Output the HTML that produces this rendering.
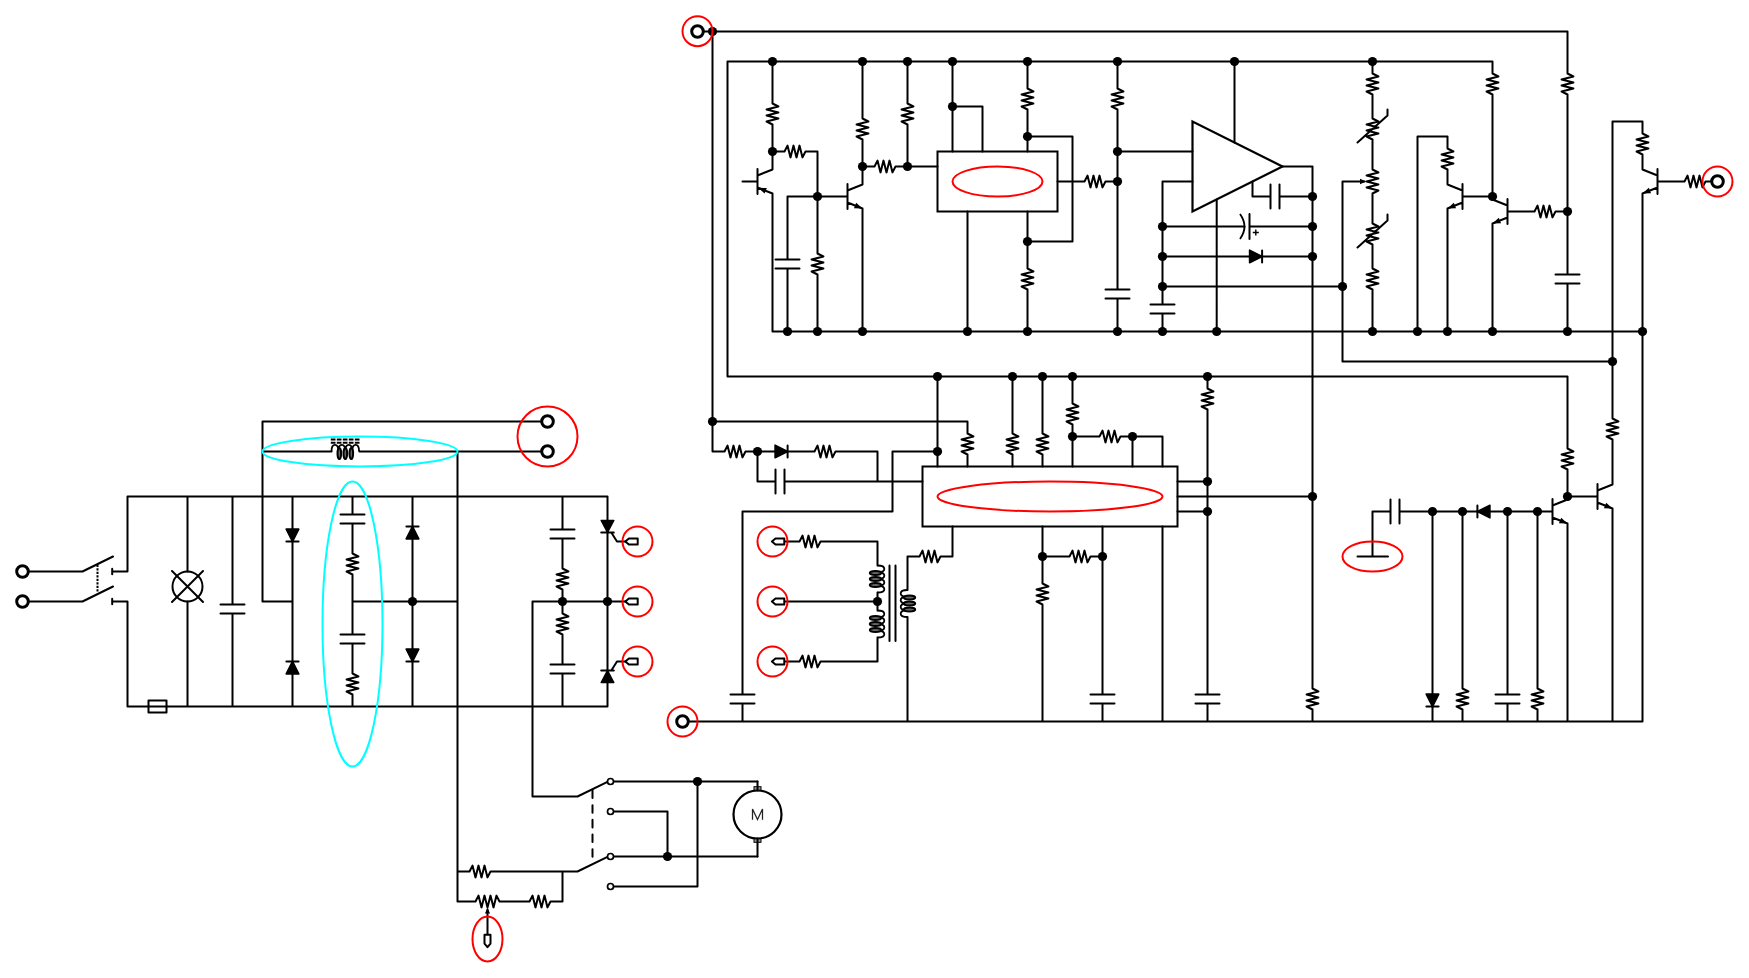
<!DOCTYPE html><html><head><meta charset="utf-8"><style>html,body{margin:0;padding:0;background:#fff;overflow:hidden}svg{display:block}</style></head><body><svg width="1749" height="978" viewBox="0 0 1749 978"><rect width="1749" height="978" fill="#fff"/><g transform="translate(0.5,0.5)"><path d="M703 31 L712 31 M712 31 L1567 31 L1567 61 M1567 61 L1567 73 L1572.9 76 L1561.1 79 L1572.9 82 L1561.1 85 L1572.9 88 L1561.1 91 L1567 94 L1567 106 M1567 106 L1567 256 M1567 256 L1567 274 M1567 283 L1567 301 M1579 274 L1555 274 M1579 283 L1555 283 M1567 301 L1567 331 M712 31 L712 451 M712 451 L724 451 L727 445.1 L730 456.9 L733 445.1 L736 456.9 L739 445.1 L742 456.9 L745 451 L757 451 M757 451 L802 451 M787.1 444.9 L787.1 457.1 M802 451 L814 451 L817 445.1 L820 456.9 L823 445.1 L826 456.9 L829 445.1 L832 456.9 L835 451 L847 451 M847 451 L877 451 L877 481 M757 451 L757 481 M757 481 L775 481 M784 481 L802 481 M775 469 L775 493 M784 469 L784 493 M802 481 L922 481 M712 421 L967 421 M967 421 L967 433 L972.9 436 L961.1 439 L972.9 442 L961.1 445 L972.9 448 L961.1 451 L967 454 L967 466 M727 376 L727 61 L1492 61 M1492 61 L1492 73 L1497.9 76 L1486.1 79 L1497.9 82 L1486.1 85 L1497.9 88 L1486.1 91 L1492 94 L1492 106 M1492 106 L1492 196 M727 376 L1567 376 L1567 436 M1567 436 L1567 448 L1572.9 451 L1561.1 454 L1572.9 457 L1561.1 460 L1572.9 463 L1561.1 466 L1567 469 L1567 481 M1567 481 L1567 496 M772 61 L772 91 M772 91 L772 103 L777.9 106 L766.1 109 L777.9 112 L766.1 115 L777.9 118 L766.1 121 L772 124 L772 136 M772 136 L772 166 M757 168.5 L757 193.5 M742 181 L757 181 M757 175 L772 169 L772 166 M757 187 L772 193 L772 196 M772 196 L772 331 M772 151 L784 151 L787 145.1 L790 156.9 L793 145.1 L796 156.9 L799 145.1 L802 156.9 L805 151 L817 151 M817 151 L817 241 M817 241 L817 253 L822.9 256 L811.1 259 L822.9 262 L811.1 265 L822.9 268 L811.1 271 L817 274 L817 286 M817 286 L817 331 M787 196 L832 196 M787 196 L787 241 M787 241 L787 259 M787 268 L787 286 M799 259 L775 259 M799 268 L775 268 M787 286 L787 331 M847 183.5 L847 208.5 M832 196 L847 196 M847 190 L862 184 L862 181 M847 202 L862 208 L862 211 M862 211 L862 331 M862 181 L862 151 M862 106 L862 118 L867.9 121 L856.1 124 L867.9 127 L856.1 130 L867.9 133 L856.1 136 L862 139 L862 151 M862 61 L862 106 M862 166 L874 166 L877 160.1 L880 171.9 L883 160.1 L886 171.9 L889 160.1 L892 171.9 L895 166 L907 166 M907 166 L937 166 M907 61 L907 91 M907 91 L907 103 L912.9 106 L901.1 109 L912.9 112 L901.1 115 L912.9 118 L901.1 121 L907 124 L907 136 M907 136 L907 166 M952 61 L952 151 M952 106 L982 106 L982 151 M1027 61 L1027 76 M1027 76 L1027 88 L1032.9 91 L1021.1 94 L1032.9 97 L1021.1 100 L1032.9 103 L1021.1 106 L1027 109 L1027 121 M1027 121 L1027 151 M1027 136 L1072 136 L1072 241 L1027 241 M1027 211 L1027 256 M1027 256 L1027 268 L1032.9 271 L1021.1 274 L1032.9 277 L1021.1 280 L1032.9 283 L1021.1 286 L1027 289 L1027 301 M1027 301 L1027 331 M967 211 L967 331 M1057 181 L1072 181 M1072 181 L1084 181 L1087 175.1 L1090 186.9 L1093 175.1 L1096 186.9 L1099 175.1 L1102 186.9 L1105 181 L1117 181 M1117 61 L1117 76 M1117 76 L1117 88 L1122.9 91 L1111.1 94 L1122.9 97 L1111.1 100 L1122.9 103 L1111.1 106 L1117 109 L1117 121 M1117 121 L1117 271 M1117 271 L1117 289 M1117 298 L1117 316 M1129 289 L1105 289 M1129 298 L1105 298 M1117 316 L1117 331 M1117 151 L1192 151 M1192 181 L1162 181 L1162 286 M1162 286 L1162 304 M1162 313 L1162 331 M1174 304 L1150 304 M1174 313 L1150 313 M1234 61 L1234 142 M1216.2 199 L1216.2 331 M1282 166 L1312 166 L1312 676 M1312 676 L1312 688 L1317.9 691 L1306.1 694 L1317.9 697 L1306.1 700 L1317.9 703 L1306.1 706 L1312 709 L1312 721 M1252 181 L1252 196 M1252 196 L1270 196 M1279 196 L1297 196 M1270 184 L1270 208 M1279 184 L1279 208 M1297 196 L1312 196 M1162 226 L1244 226 M1249 226 L1312 226 M1249 213.5 L1249 238.5 M1162 256 L1312 256 M1261.6 249.9 L1261.6 262.1 M1162 286 L1342 286 M1342 181 L1342 361 L1612 361 M1342 181 L1364 181 M1372 61 L1372 73 L1377.9 76 L1366.1 79 L1377.9 82 L1366.1 85 L1377.9 88 L1366.1 91 L1372 94 L1372 106 M1372 106 L1372 118 L1377.9 121 L1366.1 124 L1377.9 127 L1366.1 130 L1377.9 133 L1366.1 136 L1372 139 L1372 151 M1357 142 L1387 115 L1387 109 M1372 151 L1372 169 L1377.9 172 L1366.1 175 L1377.9 178 L1366.1 181 L1377.9 184 L1366.1 187 L1377.9 190 L1372 193 L1372 211 M1372 211 L1372 223 L1377.9 226 L1366.1 229 L1377.9 232 L1366.1 235 L1377.9 238 L1366.1 241 L1372 244 L1372 256 M1357 247 L1387 220 L1387 214 M1372 256 L1372 268 L1377.9 271 L1366.1 274 L1377.9 277 L1366.1 280 L1377.9 283 L1366.1 286 L1372 289 L1372 301 M1372 301 L1372 331 M1417 331 L1417 136 L1447 136 M1447 136 L1447 148 L1452.9 151 L1441.1 154 L1452.9 157 L1441.1 160 L1452.9 163 L1441.1 166 L1447 169 L1447 181 M1462 183.5 L1462 208.5 M1477 196 L1462 196 M1462 190 L1447 184 L1447 181 M1462 202 L1447 208 L1447 211 M1477 196 L1492 196 M1447 211 L1447 331 M1507 198.5 L1507 223.5 M1522 211 L1507 211 M1507 205 L1492 199 L1492 196 M1507 217 L1492 223 L1492 226 M1522 211 L1534 211 L1537 205.1 L1540 216.9 L1543 205.1 L1546 216.9 L1549 205.1 L1552 216.9 L1555 211 L1567 211 M1492 226 L1492 331 M772 331 L1642 331 M1657 168.5 L1657 193.5 M1672 181 L1657 181 M1657 175 L1642 169 L1642 166 M1657 187 L1642 193 L1642 196 M1672 181 L1684 181 L1687 175.1 L1690 186.9 L1693 175.1 L1696 186.9 L1699 175.1 L1702 186.9 L1705 181 L1717 181 M1642 121 L1642 133 L1647.9 136 L1636.1 139 L1647.9 142 L1636.1 145 L1647.9 148 L1636.1 151 L1642 154 L1642 166 M1642 121 L1612 121 L1612 406 M1612 406 L1612 418 L1617.9 421 L1606.1 424 L1617.9 427 L1606.1 430 L1617.9 433 L1606.1 436 L1612 439 L1612 451 M1612 451 L1612 481 M1642 196 L1642 721 M688 721 L1642 721 M937 376 L937 466 M937 451 L892 451 L892 511 L742 511 L742 676 M742 676 L742 694 M742 703 L742 721 M754 694 L730 694 M754 703 L730 703 M1012 376 L1012 421 M1012 421 L1012 433 L1017.9 436 L1006.1 439 L1017.9 442 L1006.1 445 L1017.9 448 L1006.1 451 L1012 454 L1012 466 M1042 376 L1042 421 M1042 421 L1042 433 L1047.9 436 L1036.1 439 L1047.9 442 L1036.1 445 L1047.9 448 L1036.1 451 L1042 454 L1042 466 M1072 376 L1072 391 M1072 391 L1072 403 L1077.9 406 L1066.1 409 L1077.9 412 L1066.1 415 L1077.9 418 L1066.1 421 L1072 424 L1072 436 M1072 436 L1072 466 M1072 436 L1087 436 M1087 436 L1099 436 L1102 430.1 L1105 441.9 L1108 430.1 L1111 441.9 L1114 430.1 L1117 441.9 L1120 436 L1132 436 M1132 436 L1132 466 M1132 436 L1162 436 L1162 466 M1207 376 L1207 388 L1212.9 391 L1201.1 394 L1212.9 397 L1201.1 400 L1212.9 403 L1201.1 406 L1207 409 L1207 421 M1207 421 L1207 676 M1207 676 L1207 694 M1207 703 L1207 721 M1219 694 L1195 694 M1219 703 L1195 703 M1177 481 L1207 481 M1177 511 L1207 511 M1177 496 L1312 496 M952 526 L952 556 M907 556 L919 556 L922 550.1 L925 561.9 L928 550.1 L931 561.9 L934 550.1 L937 561.9 L940 556 L952 556 M907 556 L907 589.5 M907 616.5 L907 721 M1042 526 L1042 571 M1042 571 L1042 583 L1047.9 586 L1036.1 589 L1047.9 592 L1036.1 595 L1047.9 598 L1036.1 601 L1042 604 L1042 616 M1042 616 L1042 721 M1042 556 L1057 556 M1057 556 L1069 556 L1072 550.1 L1075 561.9 L1078 550.1 L1081 561.9 L1084 550.1 L1087 561.9 L1090 556 L1102 556 M1102 526 L1102 676 M1102 676 L1102 694 M1102 703 L1102 721 M1114 694 L1090 694 M1114 703 L1090 703 M1162 526 L1162 721 M785 541 L787 541 M787 541 L799 541 L802 535.1 L805 546.9 L808 535.1 L811 546.9 L814 535.1 L817 546.9 L820 541 L832 541 M832 541 L877 541 L877 565 M785 601 L877 601 M785 661 L787 661 M787 661 L799 661 L802 655.1 L805 666.9 L808 655.1 L811 666.9 L814 655.1 L817 666.9 L820 661 L832 661 M832 661 L877 661 L877 637 M1372 556 L1372 511 M1357 556 L1387.5 556 M1372 511 L1390 511 M1399 511 L1417 511 M1390 499 L1390 523 M1399 499 L1399 523 M1417 511 L1537 511 M1476.9 517.1 L1476.9 504.9 M1432 511 L1432 676 M1432 676 L1432 721 M1438.1 706.1 L1425.9 706.1 M1462 511 L1462 676 M1462 676 L1462 688 L1467.9 691 L1456.1 694 L1467.9 697 L1456.1 700 L1467.9 703 L1456.1 706 L1462 709 L1462 721 M1507 511 L1507 676 M1507 676 L1507 694 M1507 703 L1507 721 M1519 694 L1495 694 M1519 703 L1495 703 M1537 511 L1537 676 M1537 676 L1537 688 L1542.9 691 L1531.1 694 L1542.9 697 L1531.1 700 L1542.9 703 L1531.1 706 L1537 709 L1537 721 M1552 498.5 L1552 523.5 M1537 511 L1552 511 M1552 505 L1567 499 L1567 496 M1552 517 L1567 523 L1567 526 M1567 526 L1567 721 M1597 483.5 L1597 508.5 M1582 496 L1597 496 M1597 490 L1612 484 L1612 481 M1597 502 L1612 508 L1612 511 M1567 496 L1582 496 M1612 511 L1612 721 M28 571 L82 571 L112.5 556 M28 601 L82 601 L112.5 586 M111.7 568.2 L111.7 573.8 M111.7 598.2 L111.7 603.8 M112 571 L127 571 L127 496 L607 496 L607 706 L127 706 L127 601 L112 601 M187 496 L187 571 M187 601 L187 706 M171.5 570.5 L202.5 601.5 M171.5 601.5 L202.5 570.5 M232 496 L232 586 M232 586 L232 604 M232 613 L232 631 M244 604 L220 604 M244 613 L220 613 M232 631 L232 706 M541 421 L262 421 L262 601 L292 601 M262 451 L331 451 M359 451 L541 451 M457 451 L457 901 M292 496 L292 706 M292 511 L292 556 M298.1 541.1 L285.9 541.1 M292 691 L292 646 M285.9 660.9 L298.1 660.9 M352 496 L352 496 M352 496 L352 514 M352 523 L352 541 M364 514 L340 514 M364 523 L340 523 M352 541 L352 553 L357.9 556 L346.1 559 L357.9 562 L346.1 565 L357.9 568 L346.1 571 L352 574 L352 586 M352 586 L352 616 M352 616 L352 634 M352 643 L352 661 M364 634 L340 634 M364 643 L340 643 M352 661 L352 673 L357.9 676 L346.1 679 L357.9 682 L346.1 685 L357.9 688 L346.1 691 L352 694 L352 706 M352 601 L457 601 M412 496 L412 706 M412 556 L412 511 M405.9 525.9 L418.1 525.9 M412 631 L412 676 M418.1 661.1 L405.9 661.1 M562 496 L562 511 M562 511 L562 529 M562 538 L562 556 M574 529 L550 529 M574 538 L550 538 M562 556 L562 568 L567.9 571 L556.1 574 L567.9 577 L556.1 580 L567.9 583 L556.1 586 L562 589 L562 601 M562 601 L562 613 L567.9 616 L556.1 619 L567.9 622 L556.1 625 L567.9 628 L556.1 631 L562 634 L562 646 M562 646 L562 664 M562 673 L562 691 M574 664 L550 664 M574 673 L550 673 M562 691 L562 706 M532 601 L625 601 M532 601 L532 796 L577 796 L607 781.3 M600.7 532 L613.3 532 M610.8 532 L616.5 541 L625 541 M600.7 670 L613.3 670 M610.8 670 L616.5 661 L625 661 M613 781 L757 781 M613 811 L667 811 L667 856 M613 856 L757 856 M613 886 L697 886 L697 781 M457 871 L469 871 L472 865.1 L475 876.9 L478 865.1 L481 876.9 L484 865.1 L487 876.9 L490 871 L502 871 M502 871 L577 871 L607 856.3 M457 901 L475 901 L478 895.1 L481 906.9 L484 895.1 L487 906.9 L490 895.1 L493 906.9 L496 895.1 L499 901 L517 901 M517 901 L529 901 L532 895.1 L535 906.9 L538 895.1 L541 906.9 L544 895.1 L547 906.9 L550 901 L562 901 M562 901 L562 871 M487 934 L487 909 M877 592 L877 610 M889 565 L889 640.5 M895 565 L895 640.5" fill="none" stroke="#000" stroke-width="2" stroke-linecap="round" stroke-linejoin="round"/><g fill="#000"><circle cx="712" cy="31" r="4.6"/><circle cx="1567" cy="211" r="4.6"/><circle cx="1567" cy="331" r="4.6"/><circle cx="712" cy="421" r="4.6"/><circle cx="757" cy="451" r="4.6"/><path d="M774.6 444.7 L774.6 457.3 L787.1 451 Z" stroke="#000" stroke-width="1.6" stroke-linejoin="round"/><circle cx="1492" cy="196" r="4.6"/><circle cx="1567" cy="496" r="4.6"/><circle cx="772" cy="61" r="4.6"/><circle cx="862" cy="61" r="4.6"/><circle cx="907" cy="61" r="4.6"/><circle cx="952" cy="61" r="4.6"/><circle cx="1027" cy="61" r="4.6"/><circle cx="1117" cy="61" r="4.6"/><circle cx="1234" cy="61" r="4.6"/><circle cx="1372" cy="61" r="4.6"/><circle cx="937" cy="376" r="4.6"/><circle cx="1012" cy="376" r="4.6"/><circle cx="1042" cy="376" r="4.6"/><circle cx="1072" cy="376" r="4.6"/><circle cx="1207" cy="376" r="4.6"/><circle cx="772" cy="151" r="4.6"/><path d="M757.8 187.3 L764.11 193.06 L766.34 187.49 Z"/><circle cx="817" cy="196" r="4.6"/><circle cx="817" cy="331" r="4.6"/><circle cx="787" cy="331" r="4.6"/><path d="M862 208 L853.46 207.81 L855.69 202.24 Z"/><circle cx="862" cy="331" r="4.6"/><circle cx="862" cy="166" r="4.6"/><circle cx="907" cy="166" r="4.6"/><circle cx="952" cy="106" r="4.6"/><circle cx="1027" cy="136" r="4.6"/><circle cx="1027" cy="241" r="4.6"/><circle cx="1027" cy="331" r="4.6"/><circle cx="967" cy="331" r="4.6"/><circle cx="1117" cy="181" r="4.6"/><circle cx="1117" cy="151" r="4.6"/><circle cx="1117" cy="331" r="4.6"/><circle cx="1162" cy="226" r="4.6"/><circle cx="1162" cy="256" r="4.6"/><circle cx="1162" cy="286" r="4.6"/><circle cx="1162" cy="331" r="4.6"/><circle cx="1216.2" cy="331" r="4.6"/><circle cx="1312" cy="196" r="4.6"/><circle cx="1312" cy="226" r="4.6"/><circle cx="1312" cy="256" r="4.6"/><circle cx="1312" cy="496" r="4.6"/><path d="M1249.1 249.7 L1249.1 262.3 L1261.6 256 Z" stroke="#000" stroke-width="1.6" stroke-linejoin="round"/><circle cx="1342" cy="286" r="4.6"/><circle cx="1612" cy="361" r="4.6"/><path d="M1365.5 181 l-6 -2.8 v5.6 Z"/><circle cx="1372" cy="331" r="4.6"/><path d="M1447 208 L1453.31 202.24 L1455.54 207.81 Z"/><circle cx="1417" cy="331" r="4.6"/><circle cx="1447" cy="331" r="4.6"/><path d="M1492 223 L1498.31 217.24 L1500.54 222.81 Z"/><circle cx="1492" cy="331" r="4.6"/><circle cx="1642" cy="331" r="4.6"/><path d="M1642 193 L1648.31 187.24 L1650.54 192.81 Z"/><circle cx="937" cy="451" r="4.6"/><circle cx="1072" cy="436" r="4.6"/><circle cx="1132" cy="436" r="4.6"/><circle cx="1207" cy="481" r="4.6"/><circle cx="1207" cy="511" r="4.6"/><circle cx="1042" cy="556" r="4.6"/><circle cx="1102" cy="556" r="4.6"/><circle cx="877" cy="601" r="4.6"/><path d="M1489.4 517.3 L1489.4 504.7 L1476.9 511 Z" stroke="#000" stroke-width="1.6" stroke-linejoin="round"/><circle cx="1432" cy="511" r="4.6"/><circle cx="1462" cy="511" r="4.6"/><circle cx="1507" cy="511" r="4.6"/><circle cx="1537" cy="511" r="4.6"/><path d="M1438.3 693.6 L1425.7 693.6 L1432 706.1 Z" stroke="#000" stroke-width="1.6" stroke-linejoin="round"/><path d="M1567 523 L1558.46 522.81 L1560.69 517.24 Z"/><path d="M1612 508 L1603.46 507.81 L1605.69 502.24 Z"/><path d="M298.3 528.6 L285.7 528.6 L292 541.1 Z" stroke="#000" stroke-width="1.6" stroke-linejoin="round"/><path d="M285.7 673.4 L298.3 673.4 L292 660.9 Z" stroke="#000" stroke-width="1.6" stroke-linejoin="round"/><circle cx="412" cy="601" r="4.6"/><path d="M405.7 538.4 L418.3 538.4 L412 525.9 Z" stroke="#000" stroke-width="1.6" stroke-linejoin="round"/><path d="M418.3 648.6 L405.7 648.6 L412 661.1 Z" stroke="#000" stroke-width="1.6" stroke-linejoin="round"/><circle cx="562" cy="601" r="4.6"/><circle cx="607" cy="601" r="4.6"/><path d="M600.7 520 h12.6 l-6.3 11.8 Z" stroke="#000" stroke-width="1.5" stroke-linejoin="round"/><path d="M600.7 682 h12.6 l-6.3 -11.8 Z" stroke="#000" stroke-width="1.5" stroke-linejoin="round"/><circle cx="697" cy="781" r="4.6"/><circle cx="667" cy="856" r="4.6"/><path d="M487 907.5 l-2.6 5.5 h5.2 Z"/></g><circle cx="697" cy="31" r="5.8" fill="#fff" stroke="#000" stroke-width="3"/><ellipse cx="697" cy="30.7" rx="15" ry="15" fill="none" stroke="#f00" stroke-width="2"/><rect x="937" y="151" width="120" height="60" fill="none" stroke="#000" stroke-width="2"/><ellipse cx="997" cy="181" rx="45" ry="15" fill="none" stroke="#f00" stroke-width="2"/><path d="M1192 121 L1192 211 L1282 166 Z" fill="none" stroke="#000" stroke-width="2.2" stroke-linejoin="miter"/><path d="M1239.5 213.5 Q1248.5 226 1239.5 238.5" fill="none" stroke="#000" stroke-width="1.8"/><path d="M1252.3 232 h6 M1255.3 229 v6" fill="none" stroke="#000" stroke-width="1.4"/><circle cx="1717" cy="181" r="5.8" fill="#fff" stroke="#000" stroke-width="3"/><ellipse cx="1717" cy="181" rx="15" ry="15" fill="none" stroke="#f00" stroke-width="2"/><circle cx="682" cy="721" r="5.8" fill="#fff" stroke="#000" stroke-width="3"/><ellipse cx="682" cy="721" rx="15" ry="15" fill="none" stroke="#f00" stroke-width="2"/><rect x="922" y="466" width="255" height="60" fill="none" stroke="#000" stroke-width="2"/><ellipse cx="1049.5" cy="496" rx="112.5" ry="15" fill="none" stroke="#f00" stroke-width="2"/><ellipse cx="772" cy="541" rx="15" ry="15" fill="none" stroke="#f00" stroke-width="2"/><path d="M771.4 541 l3.6 -3 h8.8 v6 h-8.8 Z" fill="#fff" stroke="#000" stroke-width="2" stroke-linejoin="round"/><ellipse cx="772" cy="601" rx="15" ry="15" fill="none" stroke="#f00" stroke-width="2"/><path d="M771.4 601 l3.6 -3 h8.8 v6 h-8.8 Z" fill="#fff" stroke="#000" stroke-width="2" stroke-linejoin="round"/><ellipse cx="772" cy="661" rx="15" ry="15" fill="none" stroke="#f00" stroke-width="2"/><path d="M771.4 661 l3.6 -3 h8.8 v6 h-8.8 Z" fill="#fff" stroke="#000" stroke-width="2" stroke-linejoin="round"/><ellipse cx="1372" cy="556" rx="30" ry="15" fill="none" stroke="#f00" stroke-width="2"/><circle cx="22" cy="571" r="5.8" fill="#fff" stroke="#000" stroke-width="3"/><circle cx="22" cy="601" r="5.8" fill="#fff" stroke="#000" stroke-width="3"/><path d="M97 564.3 V592" fill="none" stroke="#000" stroke-width="2" stroke-dasharray="2.2 1.3"/><rect x="148" y="700" width="18" height="12" fill="none" stroke="#000" stroke-width="2" stroke-linejoin="round"/><circle cx="187" cy="586" r="15" fill="none" stroke="#000" stroke-width="2"/><circle cx="547" cy="421" r="5.8" fill="#fff" stroke="#000" stroke-width="3"/><circle cx="547" cy="451" r="5.8" fill="#fff" stroke="#000" stroke-width="3"/><ellipse cx="547" cy="436" rx="30" ry="30" fill="none" stroke="#f00" stroke-width="2"/><ellipse cx="359.5" cy="451" rx="97.5" ry="15" fill="none" stroke="#0ff" stroke-width="2"/><ellipse cx="352" cy="623.5" rx="30" ry="142.5" fill="none" stroke="#0ff" stroke-width="2"/><ellipse cx="637" cy="541" rx="15" ry="15" fill="none" stroke="#f00" stroke-width="2"/><path d="M624.8 541 l3.6 -3 h8.8 v6 h-8.8 Z" fill="#fff" stroke="#000" stroke-width="2" stroke-linejoin="round"/><ellipse cx="637" cy="601" rx="15" ry="15" fill="none" stroke="#f00" stroke-width="2"/><path d="M624.8 601 l3.6 -3 h8.8 v6 h-8.8 Z" fill="#fff" stroke="#000" stroke-width="2" stroke-linejoin="round"/><ellipse cx="637" cy="661" rx="15" ry="15" fill="none" stroke="#f00" stroke-width="2"/><path d="M624.8 661 l3.6 -3 h8.8 v6 h-8.8 Z" fill="#fff" stroke="#000" stroke-width="2" stroke-linejoin="round"/><circle cx="610" cy="781" r="3" fill="#fff" stroke="#000" stroke-width="1.7"/><circle cx="610" cy="811" r="3" fill="#fff" stroke="#000" stroke-width="1.7"/><circle cx="610" cy="856" r="3" fill="#fff" stroke="#000" stroke-width="1.7"/><circle cx="610" cy="886" r="3" fill="#fff" stroke="#000" stroke-width="1.7"/><path d="M592 790 V856.5" fill="none" stroke="#000" stroke-width="2" stroke-linecap="round" stroke-dasharray="7.6 7.07"/><path d="M484 934.3 h6 v8.8 l-3 3.6 l-3 -3.6 Z" fill="#fff" stroke="#000" stroke-width="2" stroke-linejoin="round"/><ellipse cx="487" cy="938.5" rx="15" ry="22.5" fill="none" stroke="#f00" stroke-width="2"/><circle cx="757" cy="814" r="24" fill="#fff" stroke="#000" stroke-width="2.2"/><rect x="753.5" y="786.2" width="7" height="3.4" fill="#999" stroke="#000" stroke-width="1"/><rect x="753.5" y="838.4" width="7" height="3.4" fill="#999" stroke="#000" stroke-width="1"/><path d="M752 819.3 V808.6 L757 819 L762 808.6 V819.3" fill="none" stroke="#222" stroke-width="1.25" stroke-linejoin="miter"/><path d="M757 781 V790 M757 856 V838" fill="none" stroke="#000" stroke-width="2" stroke-linecap="round"/><path d="M331 451 C331 442.29 337.9 442.29 337.9 451 C337.9 442.29 344.8 442.29 344.8 451 C344.8 442.29 351.7 442.29 351.7 451 C351.7 442.29 358.6 442.29 358.6 451" fill="none" stroke="#000" stroke-width="1.8"/><ellipse cx="338.8" cy="453" rx="1.8" ry="5.6" fill="#666" stroke="#000" stroke-width="2"/><ellipse cx="344.8" cy="453" rx="1.8" ry="5.6" fill="#666" stroke="#000" stroke-width="2"/><ellipse cx="350.8" cy="453" rx="1.8" ry="5.6" fill="#666" stroke="#000" stroke-width="2"/><path d="M330.3 439 H359.5" fill="none" stroke="#000" stroke-width="1.9" stroke-dasharray="4.7 1.3"/><path d="M330.3 442.3 H359.5" fill="none" stroke="#000" stroke-width="1.9" stroke-dasharray="4.7 1.3"/><path d="M877 565 C886.1 565 886.1 571.75 877 571.75 C886.1 571.75 886.1 578.5 877 578.5 C886.1 578.5 886.1 585.25 877 585.25 C886.1 585.25 886.1 592 877 592" fill="none" stroke="#000" stroke-width="1.8"/><ellipse cx="875" cy="572.5" rx="5.7" ry="1.9" fill="#666" stroke="#000" stroke-width="2"/><ellipse cx="875" cy="578.5" rx="5.7" ry="1.9" fill="#666" stroke="#000" stroke-width="2"/><ellipse cx="875" cy="584.5" rx="5.7" ry="1.9" fill="#666" stroke="#000" stroke-width="2"/><path d="M877 610 C886.1 610 886.1 616.75 877 616.75 C886.1 616.75 886.1 623.5 877 623.5 C886.1 623.5 886.1 630.25 877 630.25 C886.1 630.25 886.1 637 877 637" fill="none" stroke="#000" stroke-width="1.8"/><ellipse cx="875" cy="617.5" rx="5.7" ry="1.9" fill="#666" stroke="#000" stroke-width="2"/><ellipse cx="875" cy="623.5" rx="5.7" ry="1.9" fill="#666" stroke="#000" stroke-width="2"/><ellipse cx="875" cy="629.5" rx="5.7" ry="1.9" fill="#666" stroke="#000" stroke-width="2"/><path d="M907 589.5 C897.9 589.5 897.9 596.25 907 596.25 C897.9 596.25 897.9 603 907 603 C897.9 603 897.9 609.75 907 609.75 C897.9 609.75 897.9 616.5 907 616.5" fill="none" stroke="#000" stroke-width="1.8"/><ellipse cx="909" cy="597" rx="5.7" ry="1.9" fill="#666" stroke="#000" stroke-width="2"/><ellipse cx="909" cy="603" rx="5.7" ry="1.9" fill="#666" stroke="#000" stroke-width="2"/><ellipse cx="909" cy="609" rx="5.7" ry="1.9" fill="#666" stroke="#000" stroke-width="2"/></g></svg></body></html>
